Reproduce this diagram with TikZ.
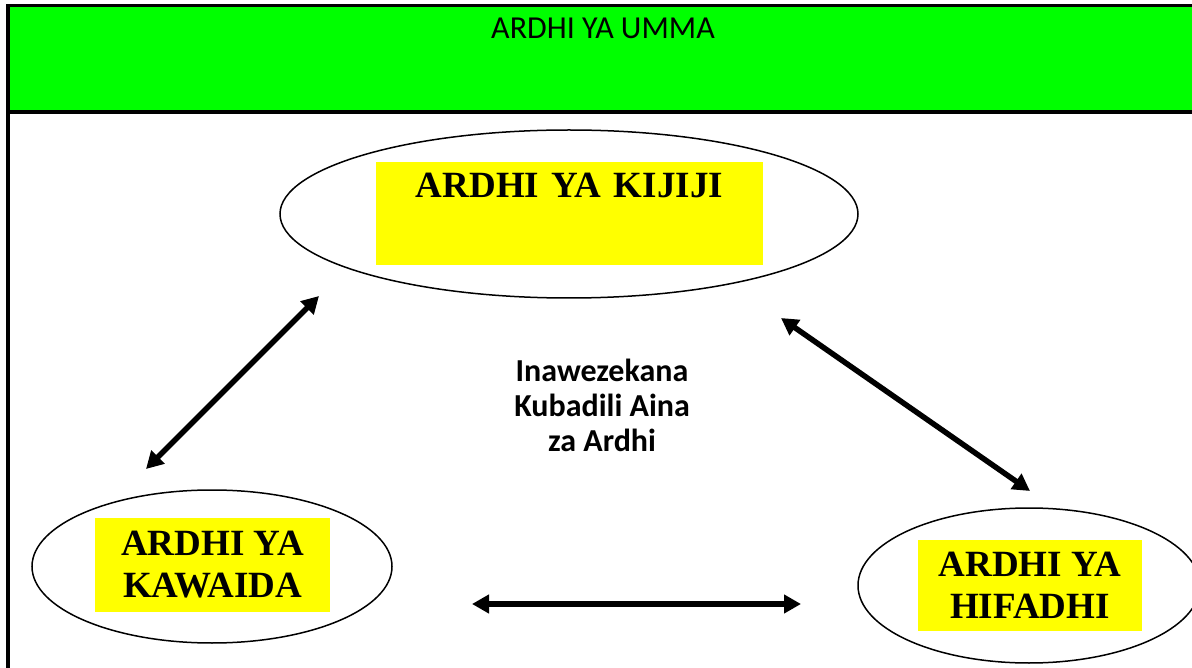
\documentclass[tikz,border=0pt]{standalone}
\usepackage{fontspec}
\setmainfont{Liberation Serif}
\newfontfamily\calib{Carlito}
\usetikzlibrary{arrows.meta,shapes.geometric}
\definecolor{header}{HTML}{00FF00}
\definecolor{marker}{HTML}{FFFF00}
\tikzset{
  landoval/.style={draw=black, ellipse, line width=1.5pt, inner sep=0pt},
  landtag/.style={fill=marker, inner sep=0pt, align=center,
                  font=\fontsize{37}{42}\selectfont\bfseries},
  swap/.style={{Triangle[length=17pt,width=18pt]}-{Triangle[length=17pt,width=18pt]},
               line width=5.5pt, draw=black},
  frame/.style={line width=3.6pt, draw=black}
}

\begin{document}
\begin{tikzpicture}[x=1pt,y=-1pt]
  \useasboundingbox (0,0) rectangle (1192,668);
  % header band and frame
  \fill[header] (8,5.5) rectangle (1194,112);
  \draw[frame] (8,670) -- (8,5.5) -- (1194,5.5);
  \draw[frame] (8,112) -- (1194,112);
  \node[font=\calib\fontsize{32}{38}\selectfont, anchor=base] (umma) at (603,38.5) {ARDHI YA UMMA};

  % the three kinds of land
  \node[landoval, minimum width=578, minimum height=168] (kijiji) at (569,214) {};
  \node[landtag, anchor=north, text width=387pt, text height=35pt, text depth=68pt] (kijijitag)
    at (569.5,162) {ARDHI YA KIJIJI};
  \node[landoval, minimum width=360, minimum height=153] (kawaida) at (212,566.5) {};
  \node[landtag, minimum width=235, minimum height=94] (kawaidatag) at (212.5,565) {ARDHI YA\\KAWAIDA};
  \node[landoval, minimum width=342, minimum height=155] (hifadhi) at (1029,585.5) {};
  \node[landtag, minimum width=224, minimum height=91] (hifadhitag) at (1030,585.5) {ARDHI YA\\HIFADHI};

  \node[font=\calib\fontsize{32}{35}\selectfont\bfseries, align=center] (badili) at (602,405)
    {Inawezekana\\Kubadili Aina\\za Ardhi};

  % arrow ends
  \coordinate (kawup) at (146,469);
  \coordinate (kijleft) at (319,296);
  \coordinate (kijright) at (781,318);
  \coordinate (hifup) at (1030,491);
  \coordinate (kawright) at (472,604);
  \coordinate (hifleft) at (801,604);
  \draw[swap] (kawup) -- (kijleft);
  \draw[swap] (kijright) -- (hifup);
  \draw[swap] (kawright) -- (hifleft);
\end{tikzpicture}
\end{document}
